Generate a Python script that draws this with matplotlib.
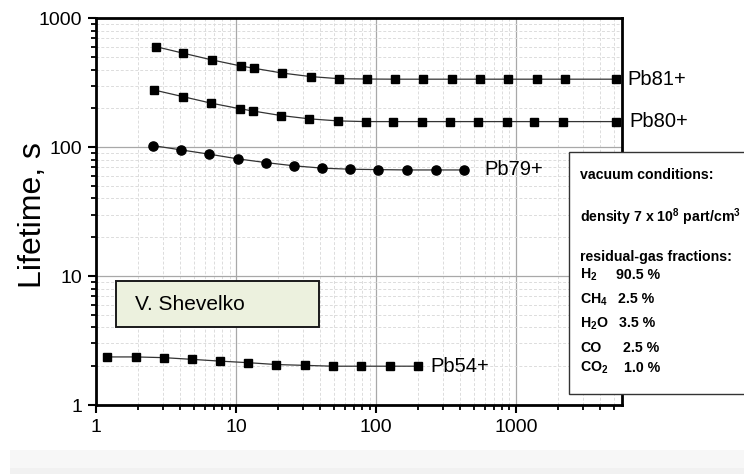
import matplotlib
matplotlib.use("Agg")
import matplotlib.pyplot as plt
from matplotlib.patches import Rectangle
from matplotlib.ticker import LogLocator, NullFormatter, FixedLocator, FixedFormatter

plt.rcParams['font.family'] = ['Liberation Sans', 'DejaVu Sans']
plt.rcParams['mathtext.fontset'] = 'custom'
plt.rcParams['mathtext.rm'] = 'Liberation Sans'
plt.rcParams['mathtext.bf'] = 'Liberation Sans:bold'

# ---------------- data ----------------
pb81_x = [2.67, 4.2, 6.7, 10.8, 13.4, 21.4, 34.2, 54.4, 86.2, 137, 218, 347, 553, 881, 1406, 2240, 5150]
pb81_y = [603, 536, 476, 427, 410, 376, 353, 340, 338, 337, 337, 337, 337, 337, 337, 337, 337]

pb80_x = [2.59, 4.16, 6.6, 10.6, 13.2, 21.0, 33.4, 53.3, 84.4, 133, 212, 338, 538, 859, 1352, 2157, 5150]
pb80_y = [278, 247, 220, 199, 191, 176, 166, 160, 158, 158, 158, 158, 158, 158, 158, 158, 158]

pb79_x = [2.54, 4.05, 6.44, 10.3, 16.3, 26.0, 41.3, 65.1, 104, 168, 267, 425]
pb79_y = [103, 95.3, 88.3, 81.2, 76.0, 71.7, 68.8, 67.5, 67.0, 66.6, 66.6, 66.6]

pb54_x = [1.2, 1.92, 3.05, 4.85, 7.69, 12.2, 19.4, 31.0, 49.1, 78.2, 126, 200]
pb54_y = [2.36, 2.36, 2.33, 2.26, 2.19, 2.13, 2.06, 2.03, 2.0, 2.0, 2.0, 2.0]

x_ticks = [1, 10, 100, 1000]
x_ticklabels = ['1', '10', '100', '1000']
y_ticks = [1, 10, 100, 1000]
y_ticklabels = ['1', '10', '100', '1000']

series_labels = ['Pb81+', 'Pb80+', 'Pb79+', 'Pb54+']
label_x = [6250, 6450, 600, 245]   # x position where each label starts

# ---------------- figure ----------------
W, H = 744, 474
fig = plt.figure(figsize=(W / 100, H / 100), dpi=100)

# light gray band at bottom
fig.patches.append(Rectangle((10 / W, 0), 1 - 10 / W, 24 / H, transform=fig.transFigure,
                             facecolor='#f7f7f7', edgecolor='none', zorder=0))
fig.patches.append(Rectangle((10 / W, 0), 1 - 10 / W, 6 / H, transform=fig.transFigure,
                             facecolor='#f1f1f1', edgecolor='none', zorder=0))

ax_l, ax_r, ax_t, ax_b = 96, 621.7, 18.3, 405
ax = fig.add_axes([ax_l / W, 1 - ax_b / H, (ax_r - ax_l) / W, (ax_b - ax_t) / H])
ax.set_xscale('log')
ax.set_yscale('log')
ax.set_xlim(1, 5700)
ax.set_ylim(1, 1000)

line_kw = dict(color='#333333', lw=0.9)
ax.plot(pb81_x, pb81_y, marker='s', ms=6.2, mfc='black', mec='black', zorder=3, **line_kw)
ax.plot(pb80_x, pb80_y, marker='s', ms=6.2, mfc='black', mec='black', zorder=3, **line_kw)
ax.plot(pb79_x, pb79_y, marker='o', ms=6.6, mfc='black', mec='black', zorder=3, **line_kw)
ax.plot(pb54_x, pb54_y, marker='s', ms=5.8, mfc='black', mec='black', zorder=3, **line_kw)

# series labels
lab_fs = 14.5
for lx, ly, s in zip(label_x, [pb81_y[-1], pb80_y[-1], pb79_y[-1], pb54_y[-1]], series_labels):
    ax.text(lx, ly, s, fontsize=lab_fs, va='center', ha='left', clip_on=False)

# ticks & grid
ax.xaxis.set_major_locator(FixedLocator(x_ticks))
ax.xaxis.set_major_formatter(FixedFormatter(x_ticklabels))
ax.yaxis.set_major_locator(FixedLocator(y_ticks))
ax.yaxis.set_major_formatter(FixedFormatter(y_ticklabels))
ax.xaxis.set_minor_locator(LogLocator(base=10, subs=range(2, 10), numticks=20))
ax.yaxis.set_minor_locator(LogLocator(base=10, subs=range(2, 10), numticks=20))
ax.xaxis.set_minor_formatter(NullFormatter())
ax.yaxis.set_minor_formatter(NullFormatter())

ax.grid(which='major', color='#a8a8a8', lw=0.9, ls='-', zorder=1)
ax.grid(which='minor', color='#dcdcdc', lw=0.7, ls=(0, (3, 2)), zorder=1)
ax.set_axisbelow(True)

ax.tick_params(which='major', direction='out', length=6, width=1.5, labelsize=14, pad=4, color='black')
ax.tick_params(which='minor', direction='out', length=3.5, width=1.3, color='black')
ax.tick_params(top=False, right=False, which='both')
for sp in ax.spines.values():
    sp.set_linewidth(2.0)
    sp.set_color('black')

ax.set_xlabel('E, GeV/u', fontsize=16)
ax.xaxis.set_label_coords(0.5, (ax_b - 463) / (ax_b - ax_t))
ax.set_ylabel('Lifetime, s', fontsize=23)
ax.yaxis.set_label_coords((33 - ax_l) / (ax_r - ax_l), 0.49)
ax.xaxis.label.set_va('center')
ax.yaxis.label.set_va('center')

# V. Shevelko box
bx0, by0, bx1, by1 = 115.7, 281, 319, 327.3
fig.patches.append(Rectangle((bx0 / W, 1 - by1 / H), (bx1 - bx0) / W, (by1 - by0) / H,
                             transform=fig.transFigure, facecolor='#ecf1de', edgecolor='#1a1a1a',
                             lw=1.4, zorder=5))
fig.text(135 / W, 1 - 305 / H, 'V. Shevelko', fontsize=15, va='center', ha='left', zorder=6)

# info box
ix0, iy0, iy1 = 569.3, 151.7, 394
fig.patches.append(Rectangle((ix0 / W, 1 - iy1 / H), (W + 5 - ix0) / W, (iy1 - iy0) / H,
                             transform=fig.transFigure, facecolor='white', edgecolor='#333333',
                             lw=1.0, zorder=5))
tfs = 10.2
tx = 580 / W
def ftxt(x, y, s):
    fig.text(x, 1 - y / H, s, fontsize=tfs, fontweight='bold', va='center', ha='left', zorder=6)

ftxt(tx, 175, 'vacuum conditions:')
ftxt(tx, 217, r'density 7 x 10$^\mathbf{8}$ part/cm$^\mathbf{3}$')
ftxt(tx, 256.5, 'residual-gas fractions:')
gases = [r'H$_\mathbf{2}$', r'CH$_\mathbf{4}$', r'H$_\mathbf{2}$O', 'CO', r'CO$_\mathbf{2}$']
fracs = ['90.5 %', '2.5 %', '3.5 %', '2.5 %', '1.0 %']
gas_y = [275, 299.3, 323.3, 347.5, 368.3]
frac_x = [616, 618.3, 619.3, 622.7, 624]
for g, f, yy, fx in zip(gases, fracs, gas_y, frac_x):
    ftxt(tx, yy, g)
    ftxt(fx / W, yy, f)

fig.savefig('out.png', dpi=100)
